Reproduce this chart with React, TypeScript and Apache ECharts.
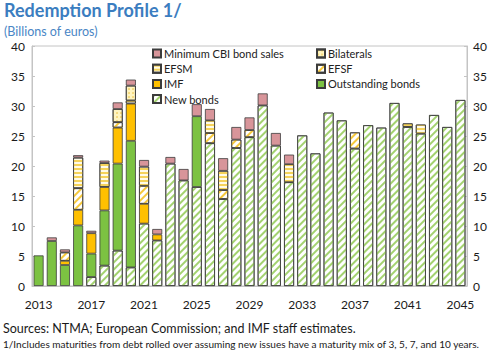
import React, { useEffect, useRef } from "react";
import * as echarts from "echarts";

const years: string[] = [];
for (let y = 2013; y <= 2045; y++) years.push(String(y));

// values in billions of euros, 2013..2045
const newBonds = [0, 0, 0, 0, 1.5, 3.4, 5.9, 3.1, 10.4, 7.6, 20.4, 17.6, 16.5, 23.8, 14.5, 23.0, 24.8, 30.1, 23.4, 17.3, 25.1, 22.1, 28.9, 27.6, 22.9, 26.8, 26.4, 30.5, 26.5, 25.4, 28.5, 26.5, 31.0];
const outstandingBonds = [5.1, 7.5, 3.5, 10.1, 3.9, 9.2, 14.5, 21.1, 0, 0, 0, 0, 11.8, 0, 0, 0, 0, 0, 0, 0, 0, 0, 0, 0, 0, 0, 0, 0, 0, 0, 0, 0, 0];
const imf = [0, 0, 0.7, 2.6, 3.4, 3.9, 6.0, 6.2, 3.3, 1.0, 0, 0, 0, 0, 0, 0, 0, 0, 0, 0, 0, 0, 0, 0, 0, 0, 0, 0, 0, 0, 0, 0, 0];
const efsf = [0, 0, 1.4, 3.6, 0, 0, 0.9, 0, 3.0, 0, 0, 0, 0, 1.7, 1.5, 1.4, 1.2, 0, 0, 0, 0, 0, 0, 0, 2.7, 0, 0, 0, 0, 0, 0, 0, 0];
const efsm = [0, 0, 0, 5.1, 0, 4.0, 0, 0.5, 3.2, 0, 0, 0, 0, 2.1, 3.2, 0, 0, 0, 0, 3.0, 0, 0, 0, 0, 0, 0, 0, 0, 0.6, 1.5, 0, 0, 0];
const bilaterals = [0, 0, 0, 0, 0, 0, 2.2, 2.5, 0, 0, 0, 0, 0, 0, 0, 0, 0, 0, 0, 0, 0, 0, 0, 0, 0, 0, 0, 0, 0, 0, 0, 0, 0];
const cbiSales = [0, 0.6, 0.5, 0.4, 0.4, 0.4, 1.1, 1.0, 1.1, 0.9, 1.1, 1.9, 2.0, 1.9, 2.1, 2.1, 2.1, 2.0, 2.1, 1.6, 0, 0, 0, 0, 0, 0, 0, 0, 0, 0, 0, 0, 0];

const yTicks = [0, 5, 10, 15, 20, 25, 30, 35, 40];

const FONT = "Lato, 'Noto Sans', sans-serif";
const BORDER = "#3c3c3c";

export default function App() {
  const ref = useRef<HTMLDivElement>(null);
  useEffect(() => {
    if (!ref.current) return;
    const chart = echarts.init(ref.current, undefined, { renderer: "svg" });
    const toData = (arr: number[]) => arr.map((v) => (v > 0 ? v : null));
    const hatch = (color: string) => ({
      symbol: "rect",
      symbolSize: 1,
      color,
      dashArrayX: [1, 0],
      dashArrayY: [1.6, 2.4],
      rotation: -Math.PI / 4,
    });
    const base = {
      type: "bar",
      stack: "total",
      barWidth: 10,
    };
    const series: any[] = [
      {
        ...base,
        name: "New bonds",
        data: toData(newBonds),
        itemStyle: { color: "#ffffff", borderColor: BORDER, borderWidth: 0.8, decal: hatch("#a3d26f") },
      },
      {
        ...base,
        name: "Outstanding bonds",
        data: toData(outstandingBonds),
        itemStyle: { color: "#7cc242", borderColor: BORDER, borderWidth: 0.8 },
      },
      {
        ...base,
        name: "IMF",
        data: toData(imf),
        itemStyle: { color: "#ffc000", borderColor: BORDER, borderWidth: 0.8 },
      },
      {
        ...base,
        name: "EFSF",
        data: toData(efsf),
        itemStyle: { color: "#ffffff", borderColor: BORDER, borderWidth: 0.8, decal: hatch("#f6c93c") },
      },
      {
        ...base,
        name: "EFSM",
        data: toData(efsm),
        itemStyle: {
          color: "#fffbe8",
          borderColor: BORDER,
          borderWidth: 0.8,
          decal: { symbol: "rect", symbolSize: 1, color: "#f5d35a", dashArrayX: [1, 0], dashArrayY: [1.5, 1.5], rotation: 0 },
        },
      },
      {
        ...base,
        name: "Bilaterals",
        data: toData(bilaterals),
        itemStyle: {
          color: "#fff4c0",
          borderColor: BORDER,
          borderWidth: 0.8,
          decal: { symbol: "circle", symbolSize: 0.7, color: "#e6b422", dashArrayX: [2, 1.5], dashArrayY: [2, 1.5], rotation: 0 },
        },
      },
      {
        ...base,
        name: "Minimum CBI bond sales",
        data: toData(cbiSales),
        itemStyle: { color: "#d8959a", borderColor: BORDER, borderWidth: 0.8 },
      },
    ];

    const legendCommon = {
      orient: "vertical",
      itemWidth: 8,
      itemHeight: 8,
      itemGap: 4.2,
      icon: "rect",
      textStyle: { fontFamily: FONT, fontSize: 11, color: "#222", padding: [0, 0, 0, -2] },
      selectedMode: false,
      padding: 0,
    };

    chart.setOption({
      animation: false,
      textStyle: { fontFamily: FONT },
      grid: {
        left: 32,
        right: 32,
        top: 46,
        bottom: 67,
        show: true,
        borderColor: "#c4c4c4",
        borderWidth: 1,
      },
      legend: [
        {
          ...legendCommon,
          left: 152,
          top: 48,
          data: ["Minimum CBI bond sales", "EFSM", "IMF", "New bonds"],
        },
        {
          ...legendCommon,
          left: 316,
          top: 48,
          data: ["Bilaterals", "EFSF", "Outstanding bonds"],
        },
      ],
      xAxis: {
        type: "category",
        data: years,
        axisLine: { lineStyle: { color: "#c4c4c4" } },
        axisTick: { show: false },
        axisLabel: {
          interval: 3,
          fontFamily: FONT,
          fontSize: 12,
          color: "#1a1a1a",
          margin: 12,
        },
      },
      yAxis: [
        {
          type: "value",
          min: yTicks[0],
          max: yTicks[yTicks.length - 1],
          interval: 5,
          splitLine: { show: false },
          axisLine: { show: true, lineStyle: { color: "#c4c4c4" } },
          axisTick: { show: true, inside: true, length: 3, lineStyle: { color: "#c4c4c4" } },
          axisLabel: { fontFamily: FONT, fontSize: 12, color: "#1a1a1a", margin: 7 },
        },
        {
          type: "value",
          position: "right",
          min: yTicks[0],
          max: yTicks[yTicks.length - 1],
          interval: 5,
          splitLine: { show: false },
          axisLine: { show: true, lineStyle: { color: "#c4c4c4" } },
          axisTick: { show: true, inside: true, length: 3, lineStyle: { color: "#c4c4c4" } },
          axisLabel: { fontFamily: FONT, fontSize: 12, color: "#1a1a1a", margin: 6 },
        },
      ],
      series,
      graphic: [
        {
          type: "text",
          left: 4,
          top: 1,
          style: {
            text: "Redemption Profile 1/",
            fontFamily: FONT,
            fontWeight: "bold",
            fontSize: 18,
            fill: "#3b7dc0",
          },
        },
        {
          type: "text",
          left: 4,
          top: 25,
          style: {
            text: "(Billions of euros)",
            fontFamily: FONT,
            fontSize: 12.5,
            fill: "#4a86c5",
          },
        },
        {
          type: "text",
          left: 3,
          top: 322,
          style: {
            text: "Sources: NTMA; European Commission; and IMF staff estimates.",
            fontFamily: FONT,
            fontSize: 12.5,
            fill: "#1a1a1a",
          },
        },
        {
          type: "text",
          left: 3,
          top: 339,
          style: {
            text: "1/Includes maturities from debt rolled over assuming new issues have a maturity mix of 3, 5, 7, and 10 years.",
            fontFamily: FONT,
            fontSize: 10.05,
            fill: "#1a1a1a",
          },
        },
      ],
    });
    return () => chart.dispose();
  }, []);
  return <div ref={ref} style={{ width: 499, height: 353, position: "absolute", left: 0, top: 0 }} />;
}
